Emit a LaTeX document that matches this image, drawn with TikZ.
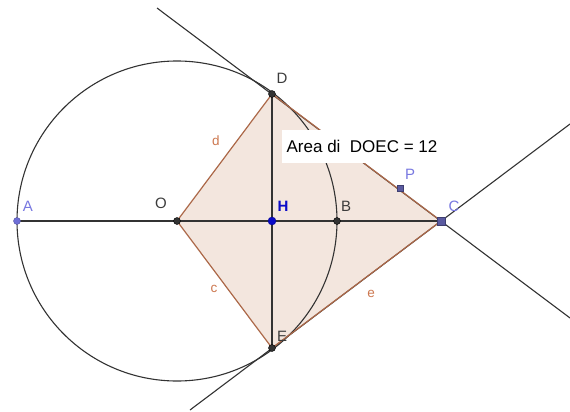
\documentclass[tikz,border=0pt]{standalone}
\usepackage{fontspec}
\setmainfont{Liberation Sans}
\definecolor{polyfill}{RGB}{243,230,222}
\definecolor{brownseg}{RGB}{172,104,72}
\definecolor{brownlab}{RGB}{205,120,80}
\definecolor{lavpt}{RGB}{110,110,215}
\definecolor{lavlab}{RGB}{120,120,225}
\definecolor{sqpt}{RGB}{90,90,160}
\definecolor{darklab}{RGB}{60,60,60}
\definecolor{hblue}{RGB}{10,10,200}
\begin{document}
\begin{tikzpicture}[x=1pt,y=-1pt,
  geo/.style={line width=1.1pt,draw=black!80},
  seg/.style={line width=1.2pt,draw=brownseg},
  blackpt/.style={circle,fill=black!80,draw=black,inner sep=0pt,minimum size=7pt},
  lavdot/.style={circle,fill=lavpt,draw=sqpt,inner sep=0pt,minimum size=7pt},
  bluedot/.style={circle,fill=hblue,draw=hblue!70!black,inner sep=0pt,minimum size=8pt},
  sqdot/.style={rectangle,fill=sqpt,draw=sqpt!70!black,inner sep=0pt,minimum size=6pt},
  ptlab/.style={font=\fontsize{15}{17}\selectfont,text=darklab,inner sep=0pt},
  lavtext/.style={font=\fontsize{15}{17}\selectfont,text=lavlab,inner sep=0pt},
  seglab/.style={font=\fontsize{13.5}{15}\selectfont,text=brownlab,inner sep=0pt}]
\useasboundingbox (0,0) rectangle (570,412);
\fill[white] (0,0) rectangle (570,412);
% key points
\coordinate (O) at (177,221);
\coordinate (A) at (17,221);
\coordinate (H) at (272,221);
\coordinate (B) at (337,221);
\coordinate (C) at (441,221);
\coordinate (D) at (272,94);
\coordinate (E) at (272,348);
\coordinate (P) at (400,188);
\coordinate (T1a) at (157,8);
\coordinate (T1b) at (570,318);
\coordinate (T2a) at (190,410);
\coordinate (T2b) at (570,124);
% polygon
\fill[polyfill] (D) -- (O) -- (E) -- (C) -- cycle;
% circle and lines
\draw[geo] (O) circle[radius=160];
\draw[geo] (A) -- (C);
\draw[geo] (D) -- (E);
\draw[geo] (T1a) -- (T1b);
\draw[geo] (T2a) -- (T2b);
% polygon edges
\draw[seg] (D) -- (O) -- (E) -- (C) -- cycle;
% text box
\node[fill=white,minimum width=160pt,minimum height=33pt,inner sep=0pt,
  font=\fontsize{17}{19}\selectfont] (area) at (362,146) {Area di\ \ DOEC = 12};
% points
\node[lavdot] (pA) at (A) {};
\node[blackpt] (pO) at (O) {};
\node[bluedot] (pH) at (H) {};
\node[blackpt] (pB) at (B) {};
\node[blackpt] (pD) at (D) {};
\node[blackpt] (pE) at (E) {};
\node[sqdot] (pP) at (P) {};
\node[sqdot,minimum size=8pt] (pC) at (C) {};
% labels
\node[lavtext] (lA) at (28,206) {A};
\node[ptlab] (lO) at (161,203) {O};
\node[font=\fontsize{15}{17}\selectfont\bfseries,text=hblue,inner sep=0pt] (lH) at (283,206) {H};
\node[ptlab] (lB) at (346,206) {B};
\node[ptlab] (lD) at (282,78) {D};
\node[ptlab] (lE) at (282,336) {E};
\node[lavtext] (lP) at (410,174) {P};
\node[lavtext] (lC) at (454,206) {C};
\node[seglab] (ld) at (216,141) {d};
\node[seglab] (lc) at (214,289) {c};
\node[seglab] (le) at (371,294) {e};
\end{tikzpicture}
\end{document}
